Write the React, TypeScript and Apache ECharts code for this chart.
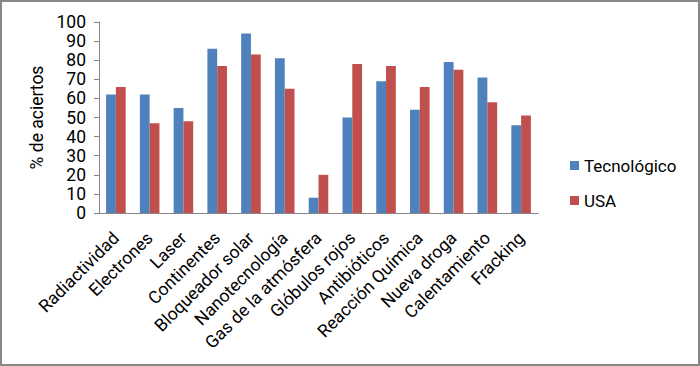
import React, { useEffect, useRef } from "react";
import * as echarts from "echarts";

const categories = [
  "Radiactividad",
  "Electrones",
  "Laser",
  "Continentes",
  "Bloqueador solar",
  "Nanotecnología",
  "Gas de la atmósfera",
  "Glóbulos rojos",
  "Antibióticos",
  "Reacción Química",
  "Nueva droga",
  "Calentamiento",
  "Fracking",
];
const tecnologico = [62, 62, 55, 86, 94, 81, 8, 50, 69, 54, 79, 71, 46];
const usa = [66, 47, 48, 77, 83, 65, 20, 78, 77, 66, 75, 58, 51];
const seriesNames = ["Tecnológico", "USA"];
const yName = "% de aciertos";

const FONT = "Roboto, 'Open Sans', sans-serif";

export default function App() {
  const ref = useRef<HTMLDivElement>(null);
  useEffect(() => {
    document.body.style.margin = "0";
    const chart = echarts.init(ref.current!, null, { renderer: "svg" });
    chart.setOption({
      animation: false,
      backgroundColor: "#ffffff",
      textStyle: { fontFamily: FONT },
      graphic: [
        {
          type: "rect",
          shape: { x: 1, y: 1, width: 698, height: 364 },
          style: { fill: "none", stroke: "#888888", lineWidth: 2 },
          silent: true,
        },
      ],
      grid: { left: 99, right: 162, top: 22, bottom: 153, containLabel: false },
      legend: {
        orient: "vertical",
        left: 570,
        top: 157,
        padding: 0,
        itemWidth: 9,
        itemHeight: 9,
        itemGap: 18,
        icon: "rect",
        textStyle: { fontFamily: FONT, fontSize: 17, color: "#000", lineHeight: 17 },
        data: seriesNames,
      },
      xAxis: {
        type: "category",
        data: categories,
        axisLine: { lineStyle: { color: "#868686", width: 1 } },
        axisTick: { show: false },
        axisLabel: {
          rotate: 45,
          interval: 0,
          margin: 22,
          fontFamily: FONT,
          fontSize: 17.5,
          color: "#000",
        },
      },
      yAxis: {
        type: "value",
        min: 0,
        max: 100,
        interval: 10,
        name: yName,
        nameLocation: "middle",
        nameGap: 52,
        nameTextStyle: { fontFamily: FONT, fontSize: 17.5, color: "#000" },
        axisLine: { show: true, lineStyle: { color: "#868686", width: 1 } },
        axisTick: { show: true, length: 5, lineStyle: { color: "#868686" } },
        splitLine: { show: false },
        axisLabel: { margin: 13, fontFamily: FONT, fontSize: 17.5, color: "#000" },
      },
      series: [
        {
          name: seriesNames[0],
          type: "bar",
          data: tecnologico,
          itemStyle: { color: "#4F81BD" },
          barGap: "0%",
          barCategoryGap: "42%",
        },
        {
          name: seriesNames[1],
          type: "bar",
          data: usa,
          itemStyle: { color: "#C0504D" },
          barGap: "0%",
          barCategoryGap: "42%",
        },
      ],
    });
    return () => chart.dispose();
  }, []);
  return <div ref={ref} style={{ width: 700, height: 366 }} />;
}
